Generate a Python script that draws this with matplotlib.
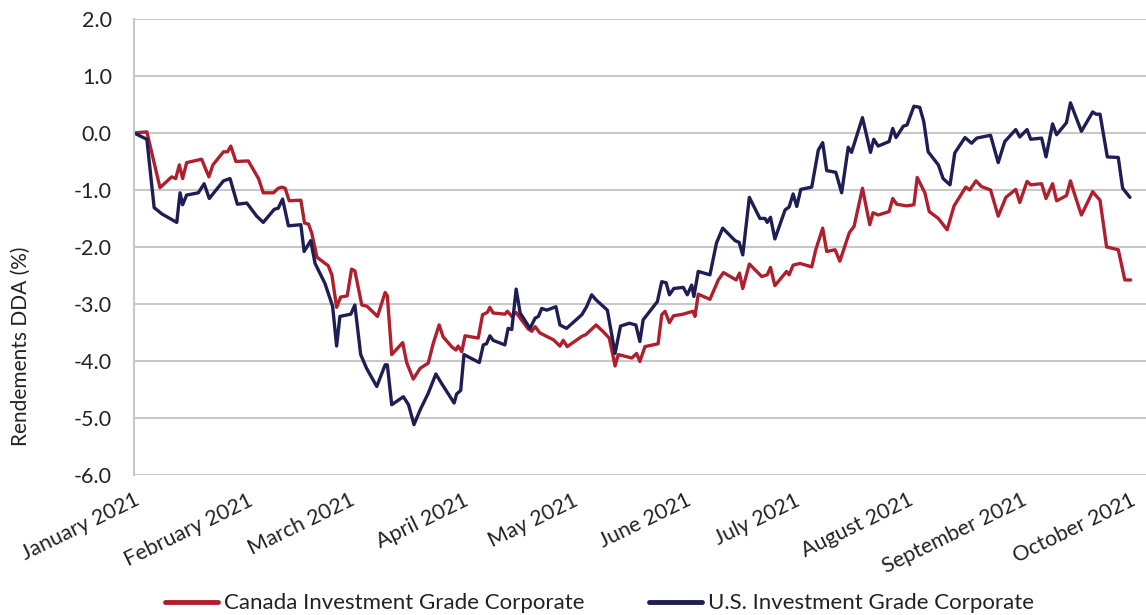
import matplotlib
matplotlib.use("Agg")
import matplotlib.pyplot as plt
import numpy as np
import datetime as dt

# ---- data (days since 2021-01-01, YTD return %) ----
canada_days = [0, 3.5, 7.1, 10.3, 11.4, 12.4, 13.3, 14.4, 18.5, 20.5, 21.6, 24.5, 25.6, 26.5, 27.9,
               31.3, 34.1, 35.4, 38.2, 39.5, 40.5, 41.4, 42.5, 45.7, 46.7, 47.8, 48.7, 50.1, 53.2,
               54.2, 55.5, 56.6, 58.4, 59.6, 60.5, 62.4, 63.8, 66.7, 68.8, 69.4, 70.6, 73.6, 74.7,
               76.5, 78.4, 80.6, 82.0, 83.6, 84.7, 87.0, 88.2, 88.8, 89.8, 90.7, 94.3, 95.5, 96.8,
               97.5, 98.4, 101.6, 102.3, 103.5, 104.7, 105.8, 108.0, 109.0, 109.9, 111.2, 114.9,
               116.7, 117.6, 118.7, 122.7, 123.8, 126.6, 128.6, 130.2, 131.1, 131.8, 132.7, 136.4,
               137.7, 138.6, 140.0, 143.6, 144.6, 145.5, 146.7, 147.8, 150.5, 153.1, 153.7, 154.6,
               157.8, 160.1, 161.5, 165.0, 165.9, 166.8, 168.6, 172.0, 173.5, 174.4, 175.6, 178.8,
               179.5, 180.6, 182.5, 185.7, 186.8, 188.7, 189.8, 192.1, 193.4, 196.0, 197.3, 199.6,
               201.6, 202.5, 203.9, 206.9, 207.9, 209.0, 211.7, 213.7, 214.6, 216.7, 217.9, 220.4,
               222.8, 224.7, 227.9, 229.0, 230.7, 232.2, 234.7, 236.8, 238.9, 241.6, 242.7, 244.7,
               245.7, 248.7, 249.9, 251.7, 252.8, 255.5, 256.6, 257.8, 259.6, 262.7, 263.6, 264.7,
               266.5, 269.7, 271.5, 273.1]
canada_vals = [0.0, 0.02, -0.96, -0.77, -0.8, -0.56, -0.8, -0.52, -0.46, -0.77, -0.56, -0.33, -0.33,
               -0.23, -0.5, -0.49, -0.8, -1.05, -1.05, -0.97, -0.95, -0.97, -1.19, -1.18, -1.58,
               -1.6, -1.76, -2.18, -2.33, -2.49, -3.06, -2.88, -2.86, -2.39, -2.42, -3.02, -3.04,
               -3.22, -2.8, -2.86, -3.89, -3.68, -4.03, -4.32, -4.13, -4.04, -3.69, -3.37, -3.58,
               -3.75, -3.81, -3.74, -3.84, -3.56, -3.6, -3.19, -3.15, -3.06, -3.16, -3.18, -3.13,
               -3.22, -3.15, -3.25, -3.44, -3.48, -3.4, -3.51, -3.63, -3.74, -3.64, -3.75, -3.57,
               -3.54, -3.37, -3.49, -3.6, -3.87, -4.09, -3.89, -3.95, -3.87, -4.01, -3.75, -3.70,
               -3.19, -3.13, -3.33, -3.21, -3.18, -3.13, -3.22, -2.83, -2.92, -2.58, -2.45, -2.58,
               -2.46, -2.73, -2.3, -2.52, -2.49, -2.36, -2.68, -2.43, -2.49, -2.32, -2.29, -2.35,
               -2.05, -1.67, -2.08, -2.05, -2.25, -1.75, -1.64, -0.97, -1.61, -1.40, -1.44, -1.38,
               -1.15, -1.25, -1.28, -1.26, -0.78, -1.05, -1.38, -1.5, -1.70, -1.28, -0.95, -1.0,
               -0.84, -0.94, -1.0, -1.46, -1.13, -0.99, -1.22, -0.85, -0.91, -0.89, -1.15, -0.89,
               -1.19, -1.1, -0.84, -1.09, -1.44, -1.03, -1.1, -1.18, -2.0, -2.05, -2.58, -2.58]

us_days = [0, 3.5, 5.5, 7.6, 11.7, 12.6, 13.3, 14.4, 17.6, 19.2, 20.6, 24.5, 26.3, 28.3, 30.9,
           33.6, 35.4, 38.4, 39.5, 40.7, 42.3, 45.7, 46.6, 48.4, 49.6, 52.3, 54.4, 55.5, 56.4,
           59.4, 60.5, 62.1, 63.7, 66.5, 68.8, 69.4, 70.6, 73.8, 75.2, 76.7, 78.4, 80.6, 82.7,
           84.3, 87.7, 88.4, 89.5, 90.4, 94.6, 95.7, 96.6, 97.5, 98.4, 101.6, 102.5, 103.5,
           104.7, 105.8, 107.1, 108.5, 109.9, 110.8, 111.7, 113.1, 115.6, 116.7, 118.5, 122.7,
           124.0, 125.4, 126.6, 129.7, 131.8, 133.3, 135.7, 137.5, 138.6, 139.5, 143.4, 144.6,
           145.8, 146.7, 147.9, 150.5, 151.6, 152.8, 153.4, 154.6, 157.8, 159.6, 161.3, 164.7,
           165.8, 166.8, 168.6, 171.5, 172.9, 173.5, 174.4, 175.6, 178.4, 179.5, 180.6, 181.6,
           182.7, 185.7, 187.5, 188.7, 189.8, 192.3, 193.9, 195.7, 196.6, 199.6, 201.8, 202.7,
           203.9, 206.9, 207.9, 208.8, 210.8, 211.8, 213.7, 215.3, 216.4, 217.6, 220.4, 221.7,
           223.6, 224.9, 227.7, 229.5, 230.9, 234.7, 236.8, 238.6, 241.6, 242.7, 244.7, 245.7,
           248.7, 249.9, 251.7, 252.8, 255.5, 256.6, 259.6, 262.7, 263.6, 264.7, 266.7, 269.7,
           270.9, 272.9]
us_vals = [0.0, -0.11, -1.31, -1.42, -1.57, -1.05, -1.26, -1.09, -1.05, -0.89, -1.15, -0.84, -0.8,
           -1.25, -1.23, -1.46, -1.57, -1.34, -1.32, -1.16, -1.63, -1.61, -2.08, -1.89, -2.29,
           -2.64, -3.04, -3.74, -3.22, -3.18, -3.02, -3.89, -4.13, -4.45, -4.07, -4.07, -4.77,
           -4.63, -4.77, -5.12, -4.86, -4.57, -4.23, -4.4, -4.74, -4.58, -4.52, -3.89, -4.03,
           -3.72, -3.7, -3.56, -3.64, -3.72, -3.43, -3.45, -2.74, -3.16, -3.29, -3.43, -3.25,
           -3.22, -3.08, -3.11, -3.05, -3.37, -3.43, -3.19, -3.05, -2.84, -2.93, -3.11, -3.87,
           -3.39, -3.34, -3.37, -3.66, -3.28, -2.96, -2.61, -2.63, -2.84, -2.73, -2.71, -2.84,
           -2.67, -2.87, -2.43, -2.49, -1.93, -1.67, -1.89, -1.92, -2.14, -1.13, -1.5, -1.5,
           -1.57, -1.48, -1.86, -1.35, -1.3, -1.07, -1.29, -0.99, -0.95, -0.3, -0.17, -0.66,
           -0.69, -1.05, -0.25, -0.34, 0.27, -0.34, -0.11, -0.23, -0.15, 0.08, -0.08, 0.12,
           0.14, 0.47, 0.45, 0.2, -0.33, -0.56, -0.8, -0.91, -0.35, -0.08, -0.18, -0.09, -0.04,
           -0.52, -0.15, 0.06, -0.07, 0.06, -0.11, -0.09, -0.42, 0.16, -0.03, 0.18, 0.53, 0.03,
           0.37, 0.33, 0.33, -0.42, -0.43, -0.97, -1.13]

month_labels = ["January 2021", "February 2021", "March 2021", "April 2021", "May 2021",
                "June 2021", "July 2021", "August 2021", "September 2021", "October 2021"]
series_names = ["Canada Investment Grade Corporate", "U.S. Investment Grade Corporate"]
y_label = "Rendements DDA (%)"

# ---- styling ----
plt.rcParams['font.family'] = ['Lato', 'DejaVu Sans']
RED = "#B01F2D"
NAVY = "#1E1E55"
GRID = "#C8C8C8"
TXT = "#222222"

start = dt.datetime(2021, 1, 1)
to_dates = lambda ds: [start + dt.timedelta(days=float(d)) for d in ds]

fig = plt.figure(figsize=(11.46, 6.15), dpi=100)
ax = fig.add_axes([0.117, 0.228, 0.883, 0.741])

ax.plot(to_dates(canada_days), canada_vals, color=RED, lw=2.4, label=series_names[0],
        solid_joinstyle='round', solid_capstyle='round')
ax.plot(to_dates(us_days), us_vals, color=NAVY, lw=2.4, label=series_names[1],
        solid_joinstyle='round', solid_capstyle='round')

ax.set_ylim(-6, 2)
ax.set_yticks(np.arange(-6, 2.01, 1.0))
ax.yaxis.set_major_formatter(matplotlib.ticker.FormatStrFormatter('%.1f'))
ax.set_xlim(start, start + dt.timedelta(days=277.3))
ticks = [dt.datetime(2021, m, 1) for m in range(1, 11)]
ax.set_xticks(ticks)
ax.set_xticklabels(month_labels, rotation=26, ha='right', rotation_mode='anchor')

ax.grid(axis='y', color=GRID, lw=1.5)
ax.set_axisbelow(True)
for s in ['top', 'right', 'bottom']:
    ax.spines[s].set_visible(False)
ax.spines['left'].set_color(GRID)
ax.spines['left'].set_linewidth(1.5)
ax.tick_params(axis='both', length=0, labelsize=15.5, colors=TXT)
ax.tick_params(axis='y', pad=16)
ax.tick_params(axis='x', pad=11)
ax.set_ylabel(y_label, fontsize=15, color=TXT)
ax.yaxis.set_label_coords(-0.102, 0.283)

leg = fig.legend(loc='lower center', bbox_to_anchor=(0.523, -0.03), ncol=2, frameon=False,
                 fontsize=16, handlelength=2.4, handletextpad=0.25, columnspacing=2.9)
for h in leg.get_lines():
    h.set_linewidth(3.5)
for t in leg.get_texts():
    t.set_color(TXT)

fig.savefig("out.png", dpi=100)
